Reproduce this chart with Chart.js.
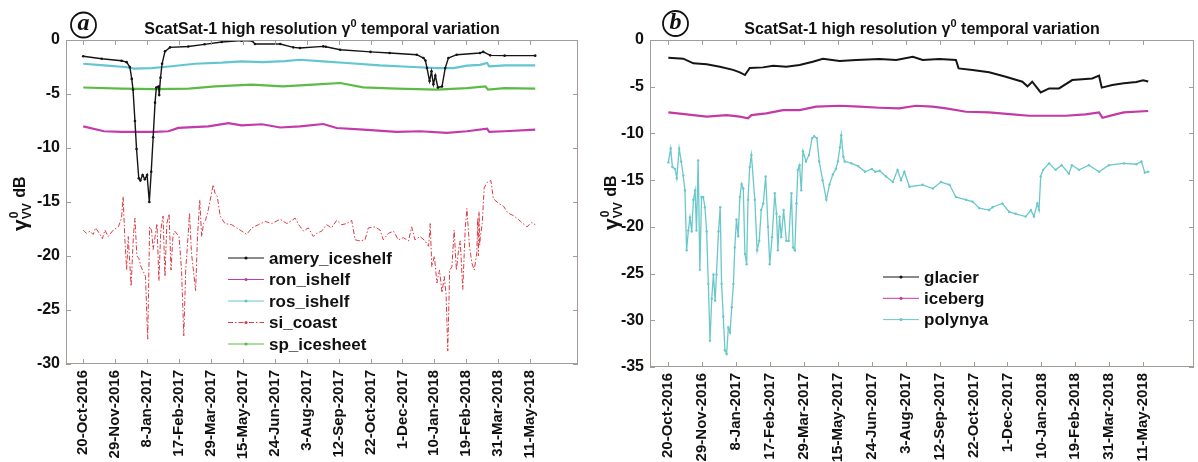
<!DOCTYPE html>
<html>
<head>
<meta charset="utf-8">
<script src="https://cdn.jsdelivr.net/npm/chart.js@4.4.0/dist/chart.umd.min.js"></script>
<style>
  body { margin: 0; background: #fff; width: 1198px; height: 462px; position: relative; overflow: hidden; }
  .pane { position: absolute; top: 0; }
  #wrapA { left: 0; }
  #wrapB { left: 600px; }
</style>
</head>
<body>
<div class="pane" id="wrapA"><canvas id="chartA" width="600" height="462"></canvas></div>
<div class="pane" id="wrapB"><canvas id="chartB" width="598" height="462"></canvas></div>
<script>
// x is in "tick steps": 0 = 20-Oct-2016 ... 14 = 11-May-2018
const xTickLabels = ['20-Oct-2016', '29-Nov-2016', '8-Jan-2017', '17-Feb-2017', '29-Mar-2017',
  '15-May-2017', '24-Jun-2017', '3-Aug-2017', '12-Sep-2017', '22-Oct-2017', '1-Dec-2017',
  '10-Jan-2018', '19-Feb-2018', '31-Mar-2018', '11-May-2018'];

// panel a  [x, dB]
const ameryIceshelf = [[0,-1.5],[0.58,-1.73],[1.2,-1.92],[1.36,-2.05],[1.46,-2.5],[1.52,-3.6],[1.56,-4.6],
  [1.62,-7.5],[1.67,-10.1],[1.74,-12.8],[1.79,-13.0],[1.86,-12.5],[1.93,-12.9],[2.0,-12.5],[2.07,-15.0],
  [2.13,-12.2],[2.19,-9.0],[2.25,-5.8],[2.29,-4.4],[2.36,-4.3],[2.38,-5.1],[2.42,-3.5],[2.47,-2.2],
  [2.56,-1.05],[2.72,-0.68],[3.29,-0.6],[3.8,-0.4],[4.34,-0.19],[4.96,-0.06],[5.3,-0.1],[5.38,-0.37],
  [6.17,-0.37],[6.58,-0.68],[6.79,-0.74],[7.52,-0.59],[7.6,-0.62],[8.05,-0.9],[9.0,-1.1],[9.6,-1.2],
  [10.45,-1.36],[10.66,-1.67],[10.72,-1.9],[10.77,-2.6],[10.85,-3.8],[10.91,-2.9],[10.97,-4.1],[11.03,-3.3],
  [11.11,-4.4],[11.24,-4.3],[11.34,-2.6],[11.44,-1.67],[11.7,-1.36],[12.43,-1.2],[12.53,-1.1],[12.75,-1.42],
  [13.2,-1.45],[14.16,-1.45]];
const ronIshelf = [[0,-8.0],[0.65,-8.45],[1.2,-8.5],[2.25,-8.5],[2.67,-8.45],[2.98,-8.14],[3.92,-8.0],
  [4.55,-7.69],[4.96,-7.9],[5.6,-7.8],[6.17,-8.1],[6.79,-8.0],[7.52,-7.78],[7.94,-8.15],[8.78,-8.3],
  [9.82,-8.5],[10.55,-8.45],[11.39,-8.6],[12.02,-8.45],[12.65,-8.2],[12.72,-8.5],[13.2,-8.45],[14.16,-8.3]];
const rosIshelf = [[0,-2.2],[0.65,-2.35],[1.31,-2.5],[1.6,-2.65],[2.14,-2.6],[2.77,-2.43],[3.5,-2.2],
  [4.34,-2.1],[4.96,-1.98],[5.6,-2.05],[6.32,-1.95],[6.79,-1.83],[7.5,-1.98],[8.26,-2.13],[9.3,-2.35],
  [10.34,-2.5],[11.08,-2.6],[11.6,-2.6],[12.02,-2.38],[12.43,-2.3],[12.65,-2.13],[12.72,-2.45],[13.2,-2.35],
  [14.16,-2.35]];
const siCoast = [[0,-17.6],[0.1,-17.9],[0.21,-17.7],[0.31,-18.0],[0.39,-17.4],[0.5,-17.9],[0.6,-18.4],
  [0.68,-17.6],[0.78,-18.2],[0.94,-17.6],[1.1,-17.3],[1.2,-16.5],[1.25,-14.5],[1.3,-18.2],[1.36,-21.3],
  [1.41,-18.2],[1.5,-22.8],[1.57,-18.2],[1.62,-16.5],[1.68,-20.0],[1.74,-20.2],[1.81,-21.0],[1.89,-21.5],
  [1.95,-21.9],[2.02,-27.7],[2.08,-17.3],[2.14,-17.6],[2.19,-19.4],[2.25,-18.2],[2.31,-17.0],[2.37,-22.3],
  [2.43,-17.6],[2.5,-16.3],[2.56,-21.9],[2.62,-17.0],[2.69,-16.1],[2.75,-21.3],[2.81,-18.2],[2.87,-17.7],
  [3.0,-18.2],[3.08,-21.3],[3.15,-27.4],[3.21,-21.3],[3.27,-18.8],[3.33,-16.0],[3.39,-19.7],[3.45,-21.3],
  [3.52,-23.2],[3.58,-18.2],[3.65,-14.8],[3.71,-18.2],[3.77,-17.0],[3.83,-16.7],[3.92,-15.7],[4.0,-14.5],
  [4.07,-13.4],[4.13,-14.2],[4.2,-14.5],[4.29,-16.3],[4.44,-17.0],[4.65,-17.1],[4.81,-17.4],[4.97,-17.7],
  [5.12,-18.0],[5.28,-17.4],[5.49,-17.1],[5.7,-16.8],[5.9,-17.0],[6.17,-16.6],[6.38,-17.0],[6.64,-16.5],
  [6.75,-17.1],[6.9,-17.7],[7.05,-17.4],[7.21,-18.2],[7.31,-17.9],[7.47,-17.7],[7.62,-17.1],[7.78,-17.4],
  [7.94,-16.7],[8.1,-17.1],[8.25,-17.0],[8.41,-16.7],[8.52,-18.5],[8.67,-18.6],[8.83,-18.5],[8.93,-17.4],
  [9.14,-17.3],[9.3,-17.6],[9.4,-18.5],[9.56,-17.9],[9.72,-17.7],[9.87,-18.5],[10.03,-18.3],[10.19,-18.6],
  [10.29,-17.3],[10.39,-18.5],[10.55,-18.2],[10.71,-18.6],[10.82,-19.1],[10.87,-17.0],[10.92,-21.0],
  [11.0,-20.0],[11.08,-22.5],[11.16,-21.3],[11.24,-23.4],[11.31,-21.9],[11.37,-23.7],[11.42,-28.8],
  [11.48,-21.3],[11.55,-21.0],[11.62,-17.6],[11.69,-21.3],[11.76,-19.4],[11.81,-18.6],[11.89,-23.1],
  [11.97,-17.3],[12.02,-15.6],[12.1,-19.1],[12.18,-20.7],[12.25,-21.3],[12.33,-19.7],[12.36,-16.5],
  [12.38,-20.0],[12.4,-15.9],[12.42,-19.0],[12.44,-18.2],[12.5,-17.0],[12.56,-13.7],[12.65,-13.2],
  [12.77,-13.0],[12.85,-14.7],[13.0,-15.1],[13.17,-15.4],[13.3,-16.0],[13.5,-16.3],[13.7,-16.8],
  [13.9,-17.3],[14.05,-16.9],[14.16,-17.1]];
const spIcesheet = [[0,-4.4],[1.2,-4.5],[2.25,-4.55],[3.3,-4.5],[4.13,-4.29],[5.28,-4.14],[6.25,-4.29],
  [7.2,-4.14],[8.05,-3.98],[8.77,-4.38],[9.82,-4.5],[11.08,-4.6],[12.02,-4.45],[12.6,-4.29],[12.68,-4.6],
  [13.2,-4.45],[14.16,-4.5]];

// panel b
const glacier = [[0,-1.89],[0.44,-2.0],[0.74,-2.5],[1.13,-2.6],[1.52,-2.86],[1.91,-3.2],[2.11,-3.46],
  [2.26,-3.75],[2.4,-3.0],[2.79,-2.93],[3.09,-2.75],[3.48,-2.86],[3.87,-2.68],[4.26,-2.32],[4.56,-2.0],
  [5.05,-2.25],[5.54,-2.14],[6.23,-2.04],[6.72,-2.14],[7.21,-1.79],[7.5,-2.14],[7.99,-2.04],[8.48,-2.14],
  [8.56,-3.04],[8.97,-3.21],[9.46,-3.46],[9.95,-3.93],[10.44,-4.46],[10.59,-4.96],[10.73,-4.46],
  [10.98,-5.61],[11.23,-5.18],[11.52,-5.18],[11.91,-4.29],[12.5,-4.11],[12.7,-3.82],[12.78,-5.1],
  [13.09,-4.82],[13.43,-4.64],[13.8,-4.5],[14.0,-4.3],[14.15,-4.45]];
const iceberg = [[0,-7.75],[0.54,-7.96],[1.13,-8.21],[1.72,-8.04],[2.11,-8.21],[2.35,-8.39],[2.45,-8.04],
  [2.89,-7.86],[3.38,-7.5],[3.87,-7.5],[4.36,-7.14],[5.05,-7.04],[5.64,-7.14],[6.23,-7.25],[6.81,-7.32],
  [7.3,-7.04],[7.79,-7.14],[8.19,-7.32],[8.78,-7.68],[9.46,-7.75],[10.15,-7.96],[10.64,-8.11],[11.33,-8.11],
  [11.72,-8.11],[12.3,-7.96],[12.7,-7.75],[12.8,-8.32],[13.1,-8.04],[13.43,-7.75],[14.15,-7.6]];
const polynya = [[0,-13.1],[0.07,-11.6],[0.12,-13.6],[0.2,-13.8],[0.25,-14.8],[0.32,-11.6],[0.38,-13.0],
  [0.44,-14.5],[0.49,-16.1],[0.54,-22.5],[0.59,-20.4],[0.64,-19.0],[0.69,-20.5],[0.74,-17.1],[0.79,-16.1],
  [0.83,-20.4],[0.88,-12.9],[0.93,-24.6],[0.98,-16.8],[1.03,-16.8],[1.08,-17.9],[1.13,-20.5],[1.18,-26.1],
  [1.23,-32.2],[1.28,-27.7],[1.33,-25.1],[1.38,-27.9],[1.42,-25.1],[1.48,-20.5],[1.53,-17.9],[1.57,-26.1],
  [1.62,-29.6],[1.67,-33.2],[1.72,-33.6],[1.77,-30.8],[1.82,-31.3],[1.87,-28.6],[1.92,-26.1],[1.96,-22.2],
  [2.01,-19.2],[2.06,-21.0],[2.11,-16.8],[2.16,-15.4],[2.21,-15.9],[2.26,-22.9],[2.31,-24.0],[2.35,-17.1],
  [2.4,-13.6],[2.45,-12.3],[2.55,-17.1],[2.62,-22.5],[2.68,-21.5],[2.74,-18.2],[2.8,-17.5],[2.87,-14.6],
  [2.94,-20.0],[2.99,-24.0],[3.06,-21.1],[3.14,-16.4],[3.19,-18.6],[3.23,-22.5],[3.28,-18.9],[3.33,-21.1],
  [3.4,-18.2],[3.48,-21.5],[3.55,-21.5],[3.63,-16.4],[3.68,-22.2],[3.73,-22.5],[3.78,-17.5],[3.82,-13.9],
  [3.87,-13.4],[3.92,-16.1],[3.97,-11.9],[4.06,-13.0],[4.15,-12.3],[4.24,-10.5],[4.3,-10.3],[4.38,-10.5],
  [4.45,-13.0],[4.55,-15.0],[4.66,-17.1],[4.75,-15.5],[4.85,-14.4],[4.94,-13.8],[5.0,-13.0],[5.06,-11.5],
  [5.1,-10.2],[5.16,-12.5],[5.2,-13.0],[5.4,-13.2],[5.6,-13.5],[5.8,-14.1],[6.0,-13.8],[6.1,-14.1],
  [6.23,-14.0],[6.42,-14.6],[6.62,-15.2],[6.76,-13.9],[6.86,-15.0],[6.96,-14.1],[7.11,-15.7],[7.5,-15.5],
  [7.8,-15.9],[8.04,-15.2],[8.29,-15.5],[8.48,-16.8],[8.78,-17.1],[8.97,-17.3],[9.17,-18.0],[9.46,-18.2],
  [9.56,-17.9],[9.85,-17.5],[10.05,-18.4],[10.24,-18.6],[10.54,-18.9],[10.69,-18.2],[10.78,-18.9],
  [10.88,-17.5],[10.93,-18.2],[10.98,-14.6],[11.05,-13.9],[11.23,-13.2],[11.42,-13.9],[11.6,-13.4],
  [11.81,-14.3],[11.9,-13.4],[12.11,-13.9],[12.4,-13.4],[12.7,-14.1],[12.99,-13.4],[13.43,-13.2],
  [13.8,-13.3],[13.95,-13.0],[14.05,-14.2],[14.15,-14.1]];

const SANS = '"Liberation Sans", Arial, sans-serif';
const toXY = pts => pts.map(p => ({ x: p[0], y: p[1] }));

function series(label, pts, color, width, extra) {
  return Object.assign({
    label, data: toXY(pts), borderColor: color, backgroundColor: color,
    borderWidth: width, pointRadius: 0, pointBorderWidth: 0, tension: 0
  }, extra || {});
}

// box, inward ticks, title, badge, y title and legend
const decor = {
  id: 'decor',
  afterDraw(chart, args, o) {
    const { ctx, chartArea: a, scales: { x, y } } = chart;
    ctx.save();
    ctx.strokeStyle = '#a49c96';
    ctx.lineWidth = 1;
    ctx.strokeRect(a.left + 0.5, a.top + 0.5, a.right - a.left - 1, a.bottom - a.top - 1);
    ctx.beginPath();
    xTickLabels.forEach((_, i) => {
      const px = Math.round(x.getPixelForValue(i)) + 0.5;
      ctx.moveTo(px, a.bottom); ctx.lineTo(px, a.bottom - 5);
      ctx.moveTo(px, a.top); ctx.lineTo(px, a.top + 5);
    });
    y.ticks.forEach(t => {
      const py = Math.round(y.getPixelForValue(t.value)) + 0.5;
      ctx.moveTo(a.left, py); ctx.lineTo(a.left + 5, py);
      ctx.moveTo(a.right, py); ctx.lineTo(a.right - 5, py);
    });
    ctx.stroke();

    // title with superscript
    ctx.fillStyle = '#111';
    ctx.textBaseline = 'alphabetic';
    const parts = [['ScatSat-1 high resolution \u03b3', 'bold 16px ' + SANS, 0],
                   ['0', 'bold 11px ' + SANS, -7],
                   [' temporal variation', 'bold 16px ' + SANS, 0]];
    let w = 0;
    parts.forEach(p => { ctx.font = p[1]; w += ctx.measureText(p[0]).width; });
    let tx = (a.left + a.right) / 2 - w / 2;
    parts.forEach(p => { ctx.font = p[1]; ctx.fillText(p[0], tx, 33.5 + p[2]); tx += ctx.measureText(p[0]).width; });

    // circled panel letter
    ctx.beginPath();
    ctx.lineWidth = 1.8;
    ctx.strokeStyle = '#111';
    ctx.arc(o.badge[0], o.badge[1], 12.5, 0, Math.PI * 2);
    ctx.stroke();
    ctx.font = 'italic bold 24px "Liberation Serif", "DejaVu Serif", serif';
    ctx.textAlign = 'center';
    ctx.textBaseline = 'middle';
    ctx.fillText(o.letter, o.badge[0], o.badge[1] - 1);

    // y axis title: gamma^0_VV dB
    ctx.save();
    ctx.translate(o.ylab[0], o.ylab[1]);
    ctx.rotate(-Math.PI / 2);
    ctx.textAlign = 'left';
    ctx.textBaseline = 'alphabetic';
    let lx = -27;
    ctx.font = 'bold 21px ' + SANS;
    ctx.fillText('\u03b3', lx, 6);
    lx += ctx.measureText('\u03b3').width;
    ctx.font = 'bold 12px ' + SANS;
    ctx.fillText('0', lx + 1, -3);
    ctx.fillText('VV', lx, 10);
    lx += ctx.measureText('VV').width + 1;
    ctx.font = 'bold 16px ' + SANS;
    ctx.fillText(' dB', lx, 4);
    ctx.restore();

    // legend
    ctx.textAlign = 'left';
    ctx.textBaseline = 'middle';
    ctx.font = 'bold 17px ' + SANS;
    chart.data.datasets.forEach((ds, i) => {
      const ly = o.legend[1] + i * o.legend[2];
      ctx.beginPath();
      ctx.strokeStyle = ds.borderColor;
      ctx.lineWidth = 1;
      ctx.setLineDash(ds.borderDash || []);
      ctx.moveTo(o.legend[0], ly); ctx.lineTo(o.legend[0] + 36, ly);
      ctx.stroke();
      ctx.setLineDash([]);
      ctx.beginPath();
      ctx.fillStyle = ds.borderColor;
      ctx.arc(o.legend[0] + 18, ly, 1.6, 0, Math.PI * 2);
      ctx.fill();
      ctx.fillStyle = '#111';
      ctx.fillText(ds.label, o.legend[0] + 41, ly + 1);
    });
    ctx.restore();
  }
};

function makeChart(id, datasets, p) {
  return new Chart(document.getElementById(id), {
    type: 'line',
    data: { datasets },
    options: {
      responsive: false,
      animation: false,
      events: [],
      layout: { padding: { top: 40, right: p.padRight, left: 0, bottom: 0 } },
      scales: {
        x: {
          type: 'linear', min: -0.54, max: 15.5,
          grid: { display: false, drawTicks: false }, border: { display: false },
          afterBuildTicks: s => { s.ticks = xTickLabels.map((_, i) => ({ value: i })); },
          afterFit: s => { s.height = p.xHeight; },
          ticks: {
            autoSkip: false, minRotation: 90, maxRotation: 90, padding: 6,
            color: '#111', font: { family: SANS, size: 15, weight: 'bold' },
            callback: v => xTickLabels[v] ?? ''
          }
        },
        y: {
          min: p.yMin, max: 0,
          grid: { display: false, drawTicks: false }, border: { display: false },
          afterFit: s => { s.width = p.yWidth; },
          ticks: { stepSize: 5, padding: 6, color: '#111', font: { family: SANS, size: 16, weight: 'bold' } }
        }
      },
      plugins: {
        legend: { display: false },
        tooltip: { enabled: false },
        decor: { letter: p.letter, badge: p.badge, ylab: p.ylab, legend: p.legend }
      }
    },
    plugins: [decor]
  });
}

makeChart('chartA', [
  series('amery_iceshelf', ameryIceshelf, '#151515', 1.4, { pointRadius: 1.3 }),
  series('ron_ishelf', ronIshelf, '#c43aa8', 2.2),
  series('ros_ishelf', rosIshelf, '#62c6d2', 2.2),
  series('si_coast', siCoast, '#dc3c44', 1, { borderDash: [5, 2, 1.5, 2] }),
  series('sp_icesheet', spIcesheet, '#5cbb45', 2.2)
], { padRight: 22, xHeight: 98, yWidth: 66, yMin: -30, letter: 'a', badge: [83.5, 25],
     ylab: [21, 204], legend: [228, 258, 21.5] });

makeChart('chartB', [
  series('glacier', glacier, '#151515', 2),
  series('iceberg', iceberg, '#c23aa6', 2.2),
  series('polynya', polynya, '#6ac8ca', 1.3, { pointRadius: 1.2 })
], { padRight: 1, xHeight: 95, yWidth: 50, yMin: -35, letter: 'b', badge: [75.5, 23.5],
     ylab: [12, 203], legend: [283, 277, 21.3] });
</script>
</body>
</html>
